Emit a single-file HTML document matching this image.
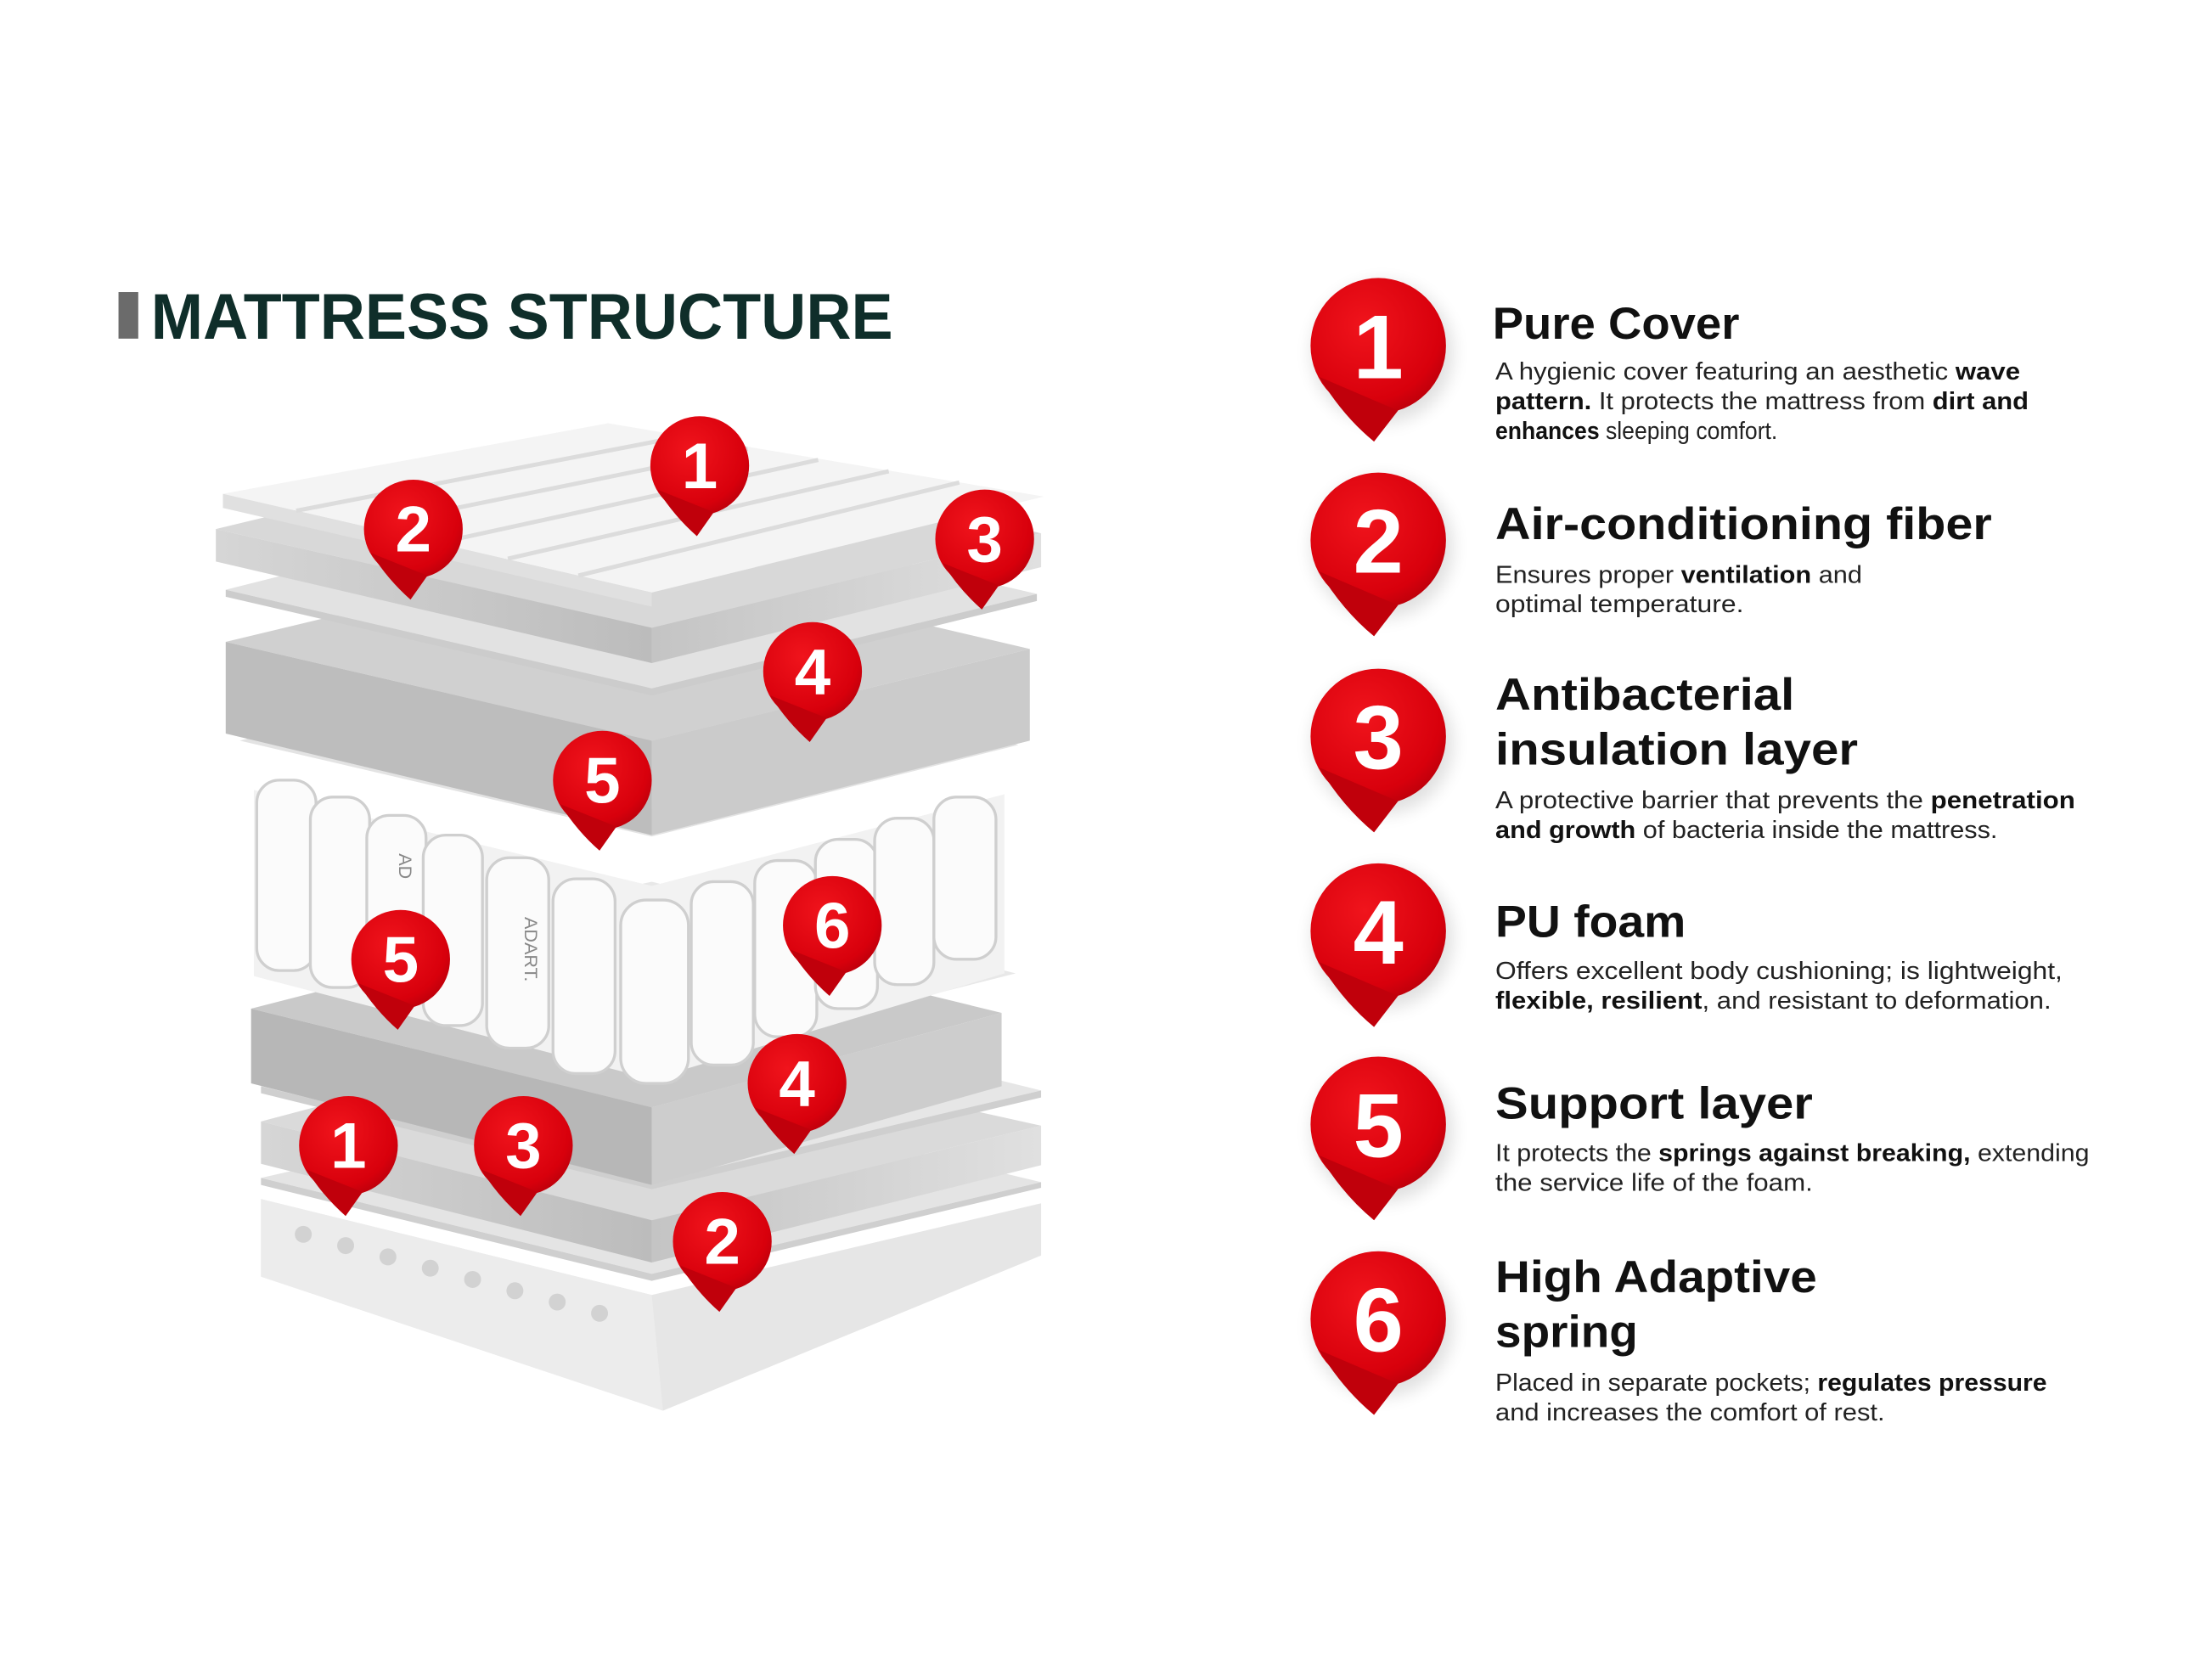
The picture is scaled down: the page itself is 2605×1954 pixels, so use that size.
<!DOCTYPE html>
<html><head><meta charset="utf-8"><style>
html,body{margin:0;padding:0;background:#fff;}
svg{display:block;}
</style></head><body>
<svg width="2605" height="1954" viewBox="0 0 1568 1176" xmlns="http://www.w3.org/2000/svg" font-family="Liberation Sans, sans-serif">
<defs>
<radialGradient id="rg" cx="0.4" cy="0.35" r="0.8">
<stop offset="0" stop-color="#f0141c"/><stop offset="0.7" stop-color="#d8000c"/><stop offset="1" stop-color="#a8000a"/>
</radialGradient>
<linearGradient id="lf" x1="0" y1="0" x2="1" y2="0"><stop offset="0" stop-color="#d6d6d6"/><stop offset="1" stop-color="#bcbcbc"/></linearGradient>
<linearGradient id="rf" x1="0" y1="0" x2="1" y2="0"><stop offset="0" stop-color="#c4c4c4"/><stop offset="1" stop-color="#e0e0e0"/></linearGradient>
<filter id="sh" x="-30%" y="-30%" width="160%" height="160%"><feGaussianBlur stdDeviation="6"/></filter>
<g id="pinL">
<circle cx="0" cy="0" r="48" fill="url(#rg)"/>
<path d="M-42,22 Q-25,50 -3,68 L14,46 Z" fill="#c0000b"/>
</g>
<g id="pinS">
<circle cx="0" cy="0" r="35" fill="url(#rg)"/>
<path d="M-30,17 Q-18,36 -2,50 L10,33 Z" fill="#c0000b"/>
</g>
</defs>
<rect width="1568" height="1176" fill="#fff"/>

<!-- title -->
<rect x="84" y="207" width="14" height="33" fill="#6b6b6b"/>
<text x="107" y="240" font-size="46" font-weight="bold" fill="#0f2e2a" textLength="526" lengthAdjust="spacingAndGlyphs">MATTRESS STRUCTURE</text>

<!-- mattress layers (bottom to top) -->
<g stroke="none">
<!-- bottom cover -->
<polygon points="185,850 462,918 738,853 738,890 470,1000 185,905" fill="#e6e6e6"/>
<polygon points="185,850 462,918 470,1000 185,905" fill="#ececec"/>
<g fill="#d2d2d2">
<circle cx="215" cy="875" r="6"/><circle cx="245" cy="883" r="6"/><circle cx="275" cy="891" r="6"/><circle cx="305" cy="899" r="6"/><circle cx="335" cy="907" r="6"/><circle cx="365" cy="915" r="6"/><circle cx="395" cy="923" r="6"/><circle cx="425" cy="931" r="6"/>
</g>
<!-- sheet -->
<polygon points="185,835 462,903 738,838 462,772" fill="#e4e4e4"/>
<polygon points="185,835 462,903 738,838 738,842 462,908 185,840" fill="#cfcfcf"/>
<!-- fiber -->
<polygon points="185,795 462,865 738,798 431,730" fill="#dadada"/>
<polygon points="185,795 462,865 462,895 185,825" fill="url(#lf)"/>
<polygon points="462,865 738,798 738,826 462,895" fill="url(#rf)"/>
<!-- sheet -->
<polygon points="185,770 462,838 738,773 462,705" fill="#e6e6e6"/>
<polygon points="185,770 462,838 738,773 738,778 462,843 185,775" fill="#cfcfcf"/>
<!-- foam -->
<polygon points="178,715 462,785 710,718 431,650" fill="#c9c9c9"/>
<polygon points="178,715 462,785 462,840 178,768" fill="#b7b7b7"/>
<polygon points="462,785 710,718 710,770 462,840" fill="#cdcdcd"/>
<!-- sheet -->
<polygon points="180,688 462,755 720,690 462,625" fill="#e8e8e8"/>
<!-- springs -->
<polygon points="180,560 462,628 712,563 712,690 462,765 180,692" fill="#f2f2f2"/>
<g fill="#fbfbfb" stroke="#cfcfcf" stroke-width="2">
<rect x="182" y="553" width="42" height="135" rx="16"/>
<rect x="220" y="565" width="42" height="135" rx="16"/>
<rect x="260" y="578" width="42" height="135" rx="16"/>
<rect x="300" y="592" width="42" height="135" rx="16"/>
<rect x="345" y="608" width="44" height="135" rx="16"/>
<rect x="392" y="623" width="44" height="138" rx="16"/>
<rect x="440" y="638" width="48" height="130" rx="18"/>
<rect x="490" y="625" width="44" height="130" rx="16"/>
<rect x="535" y="610" width="44" height="125" rx="16"/>
<rect x="578" y="595" width="44" height="120" rx="16"/>
<rect x="620" y="580" width="42" height="118" rx="16"/>
<rect x="662" y="565" width="44" height="115" rx="16"/>
</g>
<text x="372" y="650" font-size="13" fill="#888" transform="rotate(90 372 650)">ADART.</text>
<text x="283" y="605" font-size="13" fill="#888" transform="rotate(90 283 605)">AD</text>
<!-- sheet -->
<polygon points="170,525 462,593 722,528 431,458" fill="#e3e3e3"/>
<!-- foam -->
<polygon points="160,455 462,525 730,460 431,390" fill="#d0d0d0"/>
<polygon points="160,455 462,525 462,592 160,520" fill="#bdbdbd"/>
<polygon points="462,525 730,460 730,525 462,592" fill="#cbcbcb"/>
<!-- sheet -->
<polygon points="160,418 462,488 735,421 431,350" fill="#e2e2e2"/>
<polygon points="160,418 462,488 735,421 735,426 462,493 160,423" fill="#cccccc"/>
<!-- fiber -->
<polygon points="153,375 462,445 738,378 431,308" fill="#d8d8d8"/>
<polygon points="153,375 462,445 462,470 153,398" fill="url(#lf)"/>
<polygon points="462,445 738,378 738,402 462,470" fill="url(#rf)"/>
<!-- cover -->
<polygon points="158,350 462,420 740,352 431,300" fill="#f4f4f4"/>
<polygon points="158,350 462,420 462,430 158,360" fill="#e0e0e0"/>
<g stroke="#dcdcdc" stroke-width="3" fill="none">
<line x1="210" y1="362" x2="480" y2="310"/><line x1="260" y1="373" x2="530" y2="318"/><line x1="310" y1="385" x2="580" y2="326"/><line x1="360" y1="396" x2="630" y2="334"/><line x1="410" y1="408" x2="680" y2="342"/>
</g>
</g>

<!-- small pins on mattress -->
<g font-size="46" font-weight="bold" fill="#fff" text-anchor="middle">
<g transform="translate(496,330)"><use href="#pinS"/><text y="16">1</text></g>
<g transform="translate(293,375)"><use href="#pinS"/><text y="16">2</text></g>
<g transform="translate(698,382)"><use href="#pinS"/><text y="16">3</text></g>
<g transform="translate(576,476)"><use href="#pinS"/><text y="16">4</text></g>
<g transform="translate(427,553)"><use href="#pinS"/><text y="16">5</text></g>
<g transform="translate(284,680)"><use href="#pinS"/><text y="16">5</text></g>
<g transform="translate(590,656)"><use href="#pinS"/><text y="16">6</text></g>
<g transform="translate(565,768)"><use href="#pinS"/><text y="16">4</text></g>
<g transform="translate(247,812)"><use href="#pinS"/><text y="16">1</text></g>
<g transform="translate(371,812)"><use href="#pinS"/><text y="16">3</text></g>
<g transform="translate(512,880)"><use href="#pinS"/><text y="16">2</text></g>
</g>

<!-- right pins -->
<g fill="#000" opacity="0.12" filter="url(#sh)">
<circle cx="980" cy="250" r="50"/><circle cx="980" cy="388" r="50"/><circle cx="980" cy="527" r="50"/><circle cx="980" cy="665" r="50"/><circle cx="980" cy="802" r="50"/><circle cx="980" cy="940" r="50"/>
</g>
<g font-size="64" font-weight="bold" fill="#fff" text-anchor="middle">
<g transform="translate(977,245)"><use href="#pinL"/><text y="23">1</text></g>
<g transform="translate(977,383)"><use href="#pinL"/><text y="23">2</text></g>
<g transform="translate(977,522)"><use href="#pinL"/><text y="23">3</text></g>
<g transform="translate(977,660)"><use href="#pinL"/><text y="23">4</text></g>
<g transform="translate(977,797)"><use href="#pinL"/><text y="23">5</text></g>
<g transform="translate(977,935)"><use href="#pinL"/><text y="23">6</text></g>
</g>

<!-- headings & descriptions -->
<g fill="#111" font-weight="bold" font-size="32">
<text x="1058" y="240" textLength="175" lengthAdjust="spacingAndGlyphs">Pure Cover</text>
<text x="1060" y="382" textLength="352" lengthAdjust="spacingAndGlyphs">Air-conditioning fiber</text>
<text x="1060" y="503" textLength="212" lengthAdjust="spacingAndGlyphs">Antibacterial</text>
<text x="1060" y="542" textLength="257" lengthAdjust="spacingAndGlyphs">insulation layer</text>
<text x="1060" y="664" textLength="135" lengthAdjust="spacingAndGlyphs">PU foam</text>
<text x="1060" y="793" textLength="225" lengthAdjust="spacingAndGlyphs">Support layer</text>
<text x="1060" y="916" textLength="228" lengthAdjust="spacingAndGlyphs">High Adaptive</text>
<text x="1060" y="955" textLength="101" lengthAdjust="spacingAndGlyphs">spring</text>
</g>
<g fill="#222" font-size="17">
<text x="1060" y="269" textLength="372" lengthAdjust="spacingAndGlyphs">A hygienic cover featuring an aesthetic <tspan font-weight="bold" fill="#111">wave</tspan></text>
<text x="1060" y="290" textLength="378" lengthAdjust="spacingAndGlyphs"><tspan font-weight="bold" fill="#111">pattern.</tspan> It protects the mattress from <tspan font-weight="bold" fill="#111">dirt and</tspan></text>
<text x="1060" y="311" textLength="200" lengthAdjust="spacingAndGlyphs"><tspan font-weight="bold" fill="#111">enhances</tspan> sleeping comfort.</text>
<text x="1060" y="413" textLength="260" lengthAdjust="spacingAndGlyphs">Ensures proper <tspan font-weight="bold" fill="#111">ventilation</tspan> and</text>
<text x="1060" y="434" textLength="176" lengthAdjust="spacingAndGlyphs">optimal temperature.</text>
<text x="1060" y="573" textLength="411" lengthAdjust="spacingAndGlyphs">A protective barrier that prevents the <tspan font-weight="bold" fill="#111">penetration</tspan></text>
<text x="1060" y="594" textLength="356" lengthAdjust="spacingAndGlyphs"><tspan font-weight="bold" fill="#111">and growth</tspan> of bacteria inside the mattress.</text>
<text x="1060" y="694" textLength="402" lengthAdjust="spacingAndGlyphs">Offers excellent body cushioning; is lightweight,</text>
<text x="1060" y="715" textLength="394" lengthAdjust="spacingAndGlyphs"><tspan font-weight="bold" fill="#111">flexible, resilient</tspan>, and resistant to deformation.</text>
<text x="1060" y="823" textLength="421" lengthAdjust="spacingAndGlyphs">It protects the <tspan font-weight="bold" fill="#111">springs against breaking,</tspan> extending</text>
<text x="1060" y="844" textLength="225" lengthAdjust="spacingAndGlyphs">the service life of the foam.</text>
<text x="1060" y="986" textLength="391" lengthAdjust="spacingAndGlyphs">Placed in separate pockets; <tspan font-weight="bold" fill="#111">regulates pressure</tspan></text>
<text x="1060" y="1007" textLength="276" lengthAdjust="spacingAndGlyphs">and increases the comfort of rest.</text>
</g>
</svg>
</body></html>
